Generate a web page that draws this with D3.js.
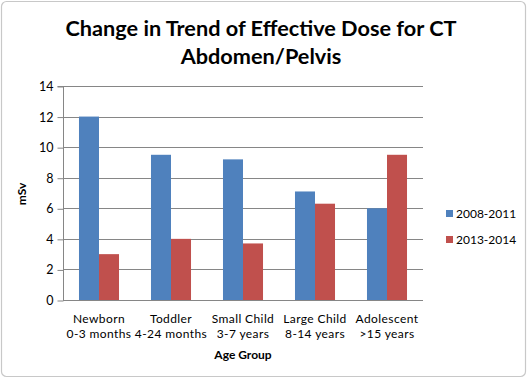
<!DOCTYPE html>
<html>
<head>
<meta charset="utf-8">
<script src="https://cdn.jsdelivr.net/npm/d3@7"></script>
<style>
  html, body { margin: 0; padding: 0; background: #fff; }
  svg { display: block; }
  text { font-family: "Lato", "Open Sans", sans-serif; fill: #000; }
</style>
</head>
<body>
<svg id="chart" width="528" height="379"></svg>
<script>
const categories = [["Newborn", "0-3 months"], ["Toddler", "4-24 months"], ["Small Child", "3-7 years"], ["Large Child", "8-14 years"], ["Adolescent", ">15 years"]];
const seriesNames = ["2008-2011", "2013-2014"];
const series2008 = [12, 9.5, 9.2, 7.1, 6.0];
const series2013 = [3.0, 4.0, 3.7, 6.3, 9.5];
const yTicks = [0, 2, 4, 6, 8, 10, 12, 14];
const colors = ["#4F81BD", "#C0504D"];
const titleLines = ["Change in Trend of Effective Dose for CT", "Abdomen/Pelvis"];

(function () {
const svg = d3.select("#chart");

svg.append("rect").attr("x", 1.5).attr("y", 1.5).attr("width", 524).attr("height", 375)
  .attr("rx", 5).attr("fill", "#fff").attr("stroke", "#c8c8c8").attr("stroke-width", 1.2);

const pl = 63, pr = 423, pt = 86, pb = 300;
const x = d3.scaleBand().domain(d3.range(categories.length)).range([pl, pr])
  .paddingInner(0.444).paddingOuter(0.222);
const xs = d3.scaleBand().domain([0, 1]).range([0, x.bandwidth()]);
const y = d3.scaleLinear().domain([0, 14]).range([pb, pt]);

// gridlines
svg.append("g").selectAll("line").data(yTicks.filter(d => d > 0)).join("line")
  .attr("x1", pl).attr("x2", pr)
  .attr("y1", d => Math.round(y(d)) + 0.5).attr("y2", d => Math.round(y(d)) + 0.5)
  .attr("stroke", "#868686").attr("stroke-width", 1);

// bars
const data = categories.map((c, i) => [series2008[i], series2013[i]]);
const groups = svg.append("g").selectAll("g").data(data).join("g")
  .attr("transform", (d, i) => `translate(${x(i)},0)`);
groups.selectAll("rect").data(d => d).join("rect")
  .attr("x", (d, j) => xs(j)).attr("width", xs.bandwidth())
  .attr("y", d => y(d)).attr("height", d => pb - y(d))
  .attr("fill", (d, j) => colors[j]);

// y axis
const yAxis = d3.axisLeft(y).tickValues(yTicks).tickSize(6).tickPadding(4).tickFormat(d3.format("d"));
const gy = svg.append("g").attr("transform", `translate(${pl + 0.5},0.5)`).call(yAxis);
gy.select(".domain").attr("stroke", "#868686").attr("d", `M-6,${y(14)}H0V${pb}`);
gy.selectAll(".tick line").attr("stroke", "#868686");
gy.selectAll(".tick text").style("font-family", "Lato, sans-serif").style("font-size", "12.5px").attr("fill", "#000");

// x axis line
svg.append("line").attr("x1", pl).attr("x2", pr).attr("y1", pb + 0.5).attr("y2", pb + 0.5)
  .attr("stroke", "#868686");

// x labels
const xl = svg.append("g").selectAll("text").data(categories).join("text")
  .attr("x", (d, i) => x(i) + x.bandwidth() / 2)
  .attr("text-anchor", "middle").style("font-size", "12px").style("letter-spacing", "0.4px");
xl.each(function(d) {
  const t = d3.select(this);
  t.append("tspan").attr("x", t.attr("x")).attr("y", 323).text(d[0]);
  t.append("tspan").attr("x", t.attr("x")).attr("y", 338).text(d[1]);
});

// axis titles
svg.append("text").attr("x", (pl + pr) / 2).attr("y", 359).attr("text-anchor", "middle")
  .style("font-size", "12px").style("font-weight", "bold").text("Age Group");
svg.append("text").attr("transform", "translate(26,194) rotate(-90)").attr("text-anchor", "middle")
  .style("font-size", "12px").style("font-weight", "bold").text("mSv");

// title
svg.append("g").selectAll("text").data(titleLines).join("text")
  .attr("x", 261).attr("y", (d, i) => 36 + i * 28).attr("text-anchor", "middle")
  .style("font-size", "21.7px").style("font-weight", "bold").text(d => d);

// legend
const lg = svg.append("g").selectAll("g").data(seriesNames).join("g")
  .attr("transform", (d, i) => `translate(446,${210 + i * 26})`);
lg.append("rect").attr("width", 7).attr("height", 7).attr("fill", (d, i) => colors[i]);
lg.append("text").attr("x", 10).attr("y", 8).style("font-size", "12px").text(d => d);
})();
</script>
</body>
</html>
